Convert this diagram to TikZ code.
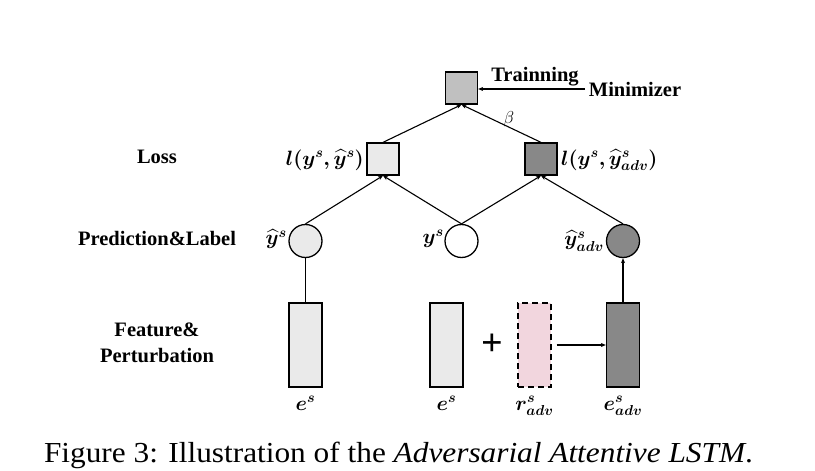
\documentclass[tikz,border=0pt]{standalone}
\usepackage{fontspec}
\usepackage{amsmath}
\usepackage{bm}
\setmainfont{Liberation Serif}
\usetikzlibrary{arrows.meta}
\definecolor{topgray}{RGB}{192,192,192}
\definecolor{lightgray}{RGB}{234,234,234}
\definecolor{darkgray}{RGB}{136,136,136}
\definecolor{pinkfill}{RGB}{242,214,222}
\tikzset{
  lbl/.style={font=\fontsize{20.5}{22}\selectfont\bfseries, inner sep=0pt},
  mth/.style={font=\fontsize{20}{22}\selectfont, inner sep=0pt},
  sq/.style={draw, line width=1.3pt, minimum width=32pt, minimum height=32pt, inner sep=0pt},
  circ/.style={draw, line width=1.3pt, circle, minimum size=33pt, inner sep=0pt},
  bar/.style={draw, line width=1.3pt, minimum width=33pt, minimum height=84pt, inner sep=0pt},
  conn/.style={line width=1.2pt},
  arr/.style={line width=1.1pt, -{Stealth[length=5pt,width=4pt]}},
}
\begin{document}
\begin{tikzpicture}[x=1pt,y=-1pt]
\useasboundingbox (0,0) rectangle (815,471);
% nodes
\node[sq, fill=topgray] (top) at (461.5,88) {};
\node[sq, fill=lightgray] (lossL) at (383,159) {};
\node[sq, fill=darkgray] (lossR) at (541,159) {};
\node[circ, fill=lightgray] (predL) at (305.5,241) {};
\node[circ, fill=white] (lab) at (461.5,241) {};
\node[circ, fill=darkgray] (predR) at (623,241) {};
\node[bar, fill=lightgray] (eL) at (305.5,345) {};
\node[bar, fill=lightgray] (eM) at (446.5,345) {};
\node[bar, fill=pinkfill, dashed, dash pattern=on 6pt off 4pt] (r) at (534.5,345) {};
\node[bar, fill=darkgray] (eR) at (623,345) {};
\node[font=\fontsize{38}{38}\selectfont\bfseries, inner sep=0pt] (plus) at (492,345) {+};
% texts
\node[lbl, anchor=base] (tr) at (535,81) {Trainning};
\node[lbl, anchor=base] (mini) at (635,96) {Minimizer};
\node[lbl, anchor=base] (loss) at (157,163) {Loss};
\node[lbl, anchor=base] (pl) at (157,245) {Prediction\&Label};
\node[lbl, anchor=base] (fe) at (157,336) {Feature\&};
\node[lbl, anchor=base] (pe) at (157,362) {Perturbation};
\node[mth, anchor=base east] (ll) at (364,165) {$\bm{l(y^s,\widehat{y}^s)}$};
\node[mth, anchor=base west] (lr) at (561,165) {$\bm{l(y^s,\widehat{y}^s_{adv})}$};
\node[mth, anchor=east] (yhL) at (287,239) {$\bm{\widehat{y}^s}$};
\node[mth, anchor=east] (yM) at (444,239) {$\bm{y^s}$};
\node[mth, anchor=east] (yhR) at (604,241) {$\bm{\widehat{y}^s_{adv}}$};
\node[mth, anchor=base] (e1) at (305.5,410) {$\bm{e^s}$};
\node[mth, anchor=base] (e2) at (446.5,410) {$\bm{e^s}$};
\node[mth, anchor=base] (r1) at (534.5,410) {$\bm{r^s_{adv}}$};
\node[mth, anchor=base] (e3) at (623,410) {$\bm{e^s_{adv}}$};
\node[font=\fontsize{16}{16}\selectfont, inner sep=0pt] (beta) at (509,119) {$\beta$};
\node[font=\fontsize{29}{31}\selectfont, anchor=base, inner sep=0pt] (cap) at (398.5,462)
  {\scalebox{1.08}[1]{Figure 3: Illustration of the \textit{Adversarial Attentive LSTM}.}};
% connectors
\coordinate (minL) at (585,89);
\draw[arr] (minL) -- (top.east |- minL);
\draw[arr] (lossL.north) -- (top.south);
\draw[arr] (lossR.north) -- (top.south);
\draw[arr] (predL.north) -- (lossL.south);
\draw[arr] (lab.north) -- (lossL.south);
\draw[arr] (lab.north) -- (lossR.south);
\draw[arr] (predR.north) -- (lossR.south);
\draw[conn] (eL.north) -- (predL.south);
\draw[arr] (eR.north) -- (predR.south);
\coordinate (rstart) at ([xshift=5pt]r.east);
\draw[arr] (rstart) -- (eR.west);
\end{tikzpicture}
\end{document}
